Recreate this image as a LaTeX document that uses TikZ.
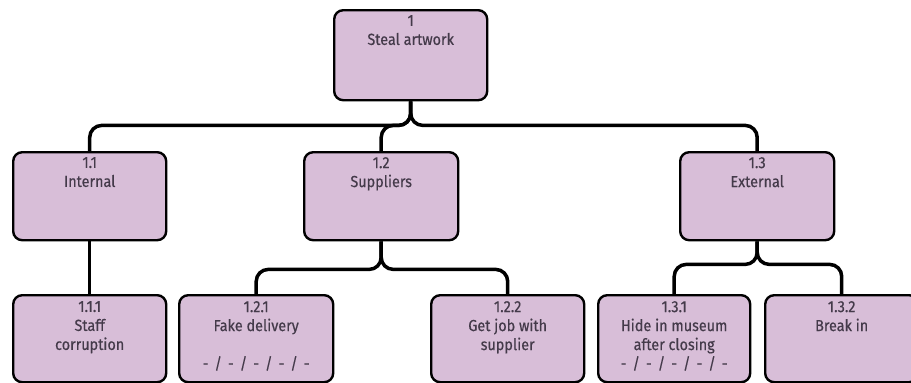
\documentclass[tikz,border=0pt]{standalone}
\usepackage{fontspec}
\setmainfont{Fira Sans}[FakeStretch=0.9,FakeBold=0.4]
\definecolor{boxfill}{RGB}{216,190,216}
\definecolor{txt}{RGB}{68,58,74}
\tikzset{
  box/.style={draw=black, line width=2.4pt, rounded corners=9pt, fill=boxfill, anchor=north west, inner sep=0pt},
  lbl/.style={anchor=north, align=center, text=txt, inner sep=0pt, font=\fontsize{16}{19}\selectfont},
  conn/.style={draw=black, line width=3.5pt, rounded corners=12pt}
}
\newcommand{\dashrow}{-\hspace{6pt}/\hspace{6pt}-\hspace{6pt}/\hspace{6pt}-\hspace{6pt}/\hspace{6pt}-\hspace{6pt}/\hspace{6pt}-}
\begin{document}
\begin{tikzpicture}[x=1pt,y=-1pt]
\useasboundingbox (0,0) rectangle (911,383);
% boxes
\node[box, minimum width=153pt, minimum height=90pt] (n1) at (333,9) {};
\node[box, minimum width=153pt, minimum height=88pt] (n11) at (12,151) {};
\node[box, minimum width=154pt, minimum height=88pt] (n12) at (303,151) {};
\node[box, minimum width=154pt, minimum height=88pt] (n13) at (679,151) {};
\node[box, minimum width=153pt, minimum height=87pt] (n111) at (12,294) {};
\node[box, minimum width=154pt, minimum height=87pt] (n121) at (178,294) {};
\node[box, minimum width=153pt, minimum height=87pt] (n122) at (430,294) {};
\node[box, minimum width=152pt, minimum height=87pt] (n131) at (597,294) {};
\node[box, minimum width=153pt, minimum height=87pt] (n132) at (764,294) {};
% connectors
\draw[conn] (n1.south) -- ++(0,24) -| (n11.north);
\draw[conn] (n1.south) -- ++(0,24) -| (n12.north);
\draw[conn] (n1.south) -- ++(0,24) -| (n13.north);
\draw[conn] (n11.south) -- (n111.north);
\draw[conn] (n12.south) -- ++(0,28) -| (n121.north);
\draw[conn] (n12.south) -- ++(0,28) -| (n122.north);
\draw[conn] (n13.south) -- ++(0,23) -| (n131.north);
\draw[conn] (n13.south) -- ++(0,23) -| (n132.north);
% labels
\node[lbl] (t1) at ([yshift=-6pt]n1.north) {1\\Steal artwork};
\node[lbl] (t11) at ([yshift=-6pt]n11.north) {1.1\\Internal};
\node[lbl] (t12) at ([yshift=-6pt]n12.north) {1.2\\Suppliers};
\node[lbl] (t13) at ([yshift=-6pt]n13.north) {1.3\\External};
\node[lbl] (t111) at ([yshift=-7pt]n111.north) {1.1.1\\Staff\\corruption};
\node[lbl] (t121) at ([yshift=-7pt]n121.north) {1.2.1\\Fake delivery\\\mbox{}\\\dashrow};
\node[lbl] (t122) at ([yshift=-7pt]n122.north) {1.2.2\\Get job with\\supplier};
\node[lbl] (t131) at ([yshift=-7pt]n131.north) {1.3.1\\Hide in museum\\after closing\\\dashrow};
\node[lbl] (t132) at ([yshift=-7pt]n132.north) {1.3.2\\Break in};
\end{tikzpicture}
\end{document}
